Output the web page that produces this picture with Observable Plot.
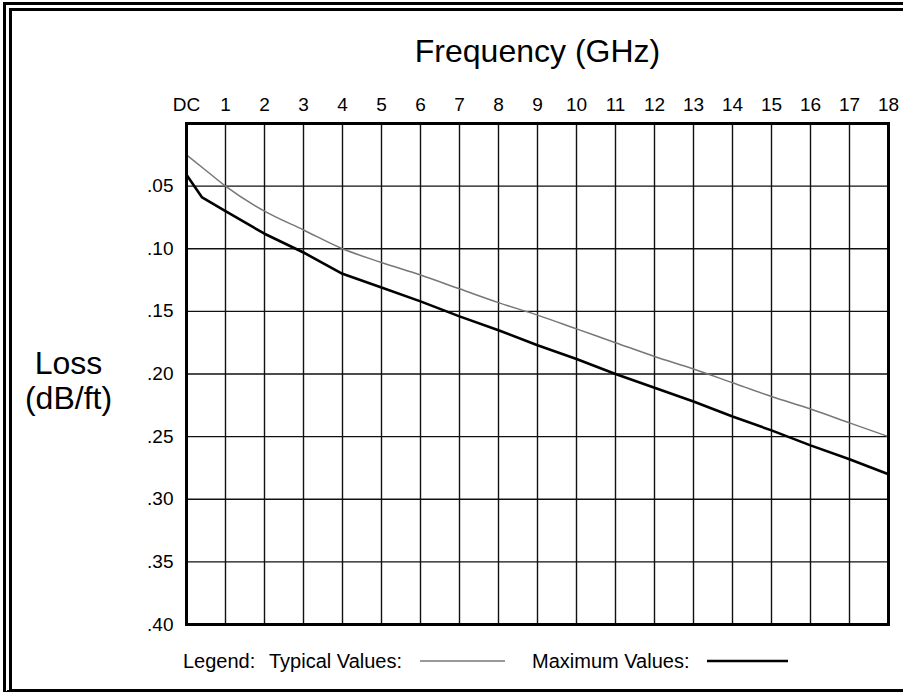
<!DOCTYPE html>
<html>
<head>
<meta charset="utf-8">
<script src="https://cdn.jsdelivr.net/npm/d3@7"></script>
<script src="https://cdn.jsdelivr.net/npm/@observablehq/plot@0.6"></script>
<style>
  html, body { margin: 0; padding: 0; background: #fff; }
  body { width: 903px; height: 692px; position: relative; overflow: hidden; font-family: "Liberation Sans", Arial, sans-serif; }
  #border { position: absolute; left: 3px; top: 2px; right: -20px; bottom: 0px;
    border-top: 9px double #000; border-left: 9px double #000; border-bottom: 3px solid #000; }
  #chart { position: absolute; left: 0; top: 0; }
</style>
</head>
<body>
<div id="border"></div>
<div id="chart"></div>
<script>
// Frequency ticks (GHz); 0 = DC
const freqTicks = d3.range(0, 19);
const freqLabels = ["DC","1","2","3","4","5","6","7","8","9","10","11","12","13","14","15","16","17","18"];
const lossTicks = [0.05, 0.10, 0.15, 0.20, 0.25, 0.30, 0.35, 0.40];
const lossLabels = [".05", ".10", ".15", ".20", ".25", ".30", ".35", ".40"];

// Typical values series
const typicalFreq = [0, 0.5, 1, 2, 3, 4, 5, 6, 7, 8, 9, 10, 11, 12, 13, 14, 15, 16, 17, 18];
const typicalLoss = [0.025, 0.0375, 0.05, 0.07, 0.085, 0.10, 0.111, 0.121, 0.132, 0.143, 0.153, 0.164, 0.175, 0.186, 0.196, 0.207, 0.218, 0.228, 0.239, 0.25];

// Maximum values series
const maxFreq = [0, 0.4, 1, 2, 3, 4, 5, 6, 7, 8, 9, 10, 11, 12, 13, 14, 15, 16, 17, 18];
const maxLoss = [0.041, 0.059, 0.07, 0.088, 0.103, 0.12, 0.131, 0.142, 0.154, 0.165, 0.177, 0.188, 0.2, 0.211, 0.222, 0.234, 0.245, 0.257, 0.268, 0.28];

const typical = typicalFreq.map((f, i) => ({f, loss: typicalLoss[i]}));
const maximum = maxFreq.map((f, i) => ({f, loss: maxLoss[i]}));

const chart = Plot.plot({
  width: 903,
  height: 692,
  marginTop: 123,
  marginLeft: 186,
  marginRight: 15,
  marginBottom: 68,
  style: { fontFamily: "Liberation Sans, Arial, sans-serif", background: "transparent", color: "#000" },
  x: { domain: [0, 18] },
  y: { domain: [0, 0.40], reverse: true },
  marks: [
    Plot.gridX(d3.range(1, 18), { stroke: "#111", strokeOpacity: 1, strokeWidth: 1.4 }),
    Plot.gridY(lossTicks.slice(0, -1), { stroke: "#111", strokeOpacity: 1, strokeWidth: 1.4 }),
    Plot.line(typical, { x: "f", y: "loss", stroke: "#777", strokeWidth: 1.5, curve: "monotone-x" }),
    Plot.line(maximum, { x: "f", y: "loss", stroke: "#000", strokeWidth: 2.6, curve: "linear" }),
    Plot.frame({ stroke: "#000", strokeWidth: 3 }),
    Plot.axisX(freqTicks, { anchor: "top", tickSize: 0, tickPadding: 13, fontSize: 19, label: null,
      tickFormat: (d) => freqLabels[d] }),
    Plot.axisY(lossTicks, { anchor: "left", tickSize: 0, tickPadding: 13, fontSize: 19, label: null,
      tickFormat: (d) => lossLabels[lossTicks.indexOf(d)] }),
    Plot.text(["Frequency (GHz)"], { frameAnchor: "top", dy: -62, lineAnchor: "bottom", fontSize: 32, fill: "#000" }),
    Plot.text(["Loss\n(dB/ft)"], { frameAnchor: "left", dx: -118, dy: 6, textAnchor: "middle", lineAnchor: "middle", lineHeight: 1.12, fontSize: 32, fill: "#000" })
  ]
});
document.getElementById("chart").appendChild(chart);

// Legend below the plot area
const svg = d3.select(chart);
const lg = svg.append("g").attr("font-family", "Liberation Sans, Arial, sans-serif").attr("font-size", 20)
  .attr("fill", "#000").attr("text-anchor", "start");
lg.append("text").attr("x", 183).attr("y", 668).text("Legend:");
lg.append("text").attr("x", 269).attr("y", 668).text("Typical Values:");
lg.append("line").attr("x1", 420).attr("x2", 505).attr("y1", 661).attr("y2", 661).attr("stroke", "#777").attr("stroke-width", 1.5);
lg.append("text").attr("x", 532).attr("y", 668).text("Maximum Values:");
lg.append("line").attr("x1", 707).attr("x2", 788).attr("y1", 661).attr("y2", 661).attr("stroke", "#000").attr("stroke-width", 2.6);
</script>
</body>
</html>
